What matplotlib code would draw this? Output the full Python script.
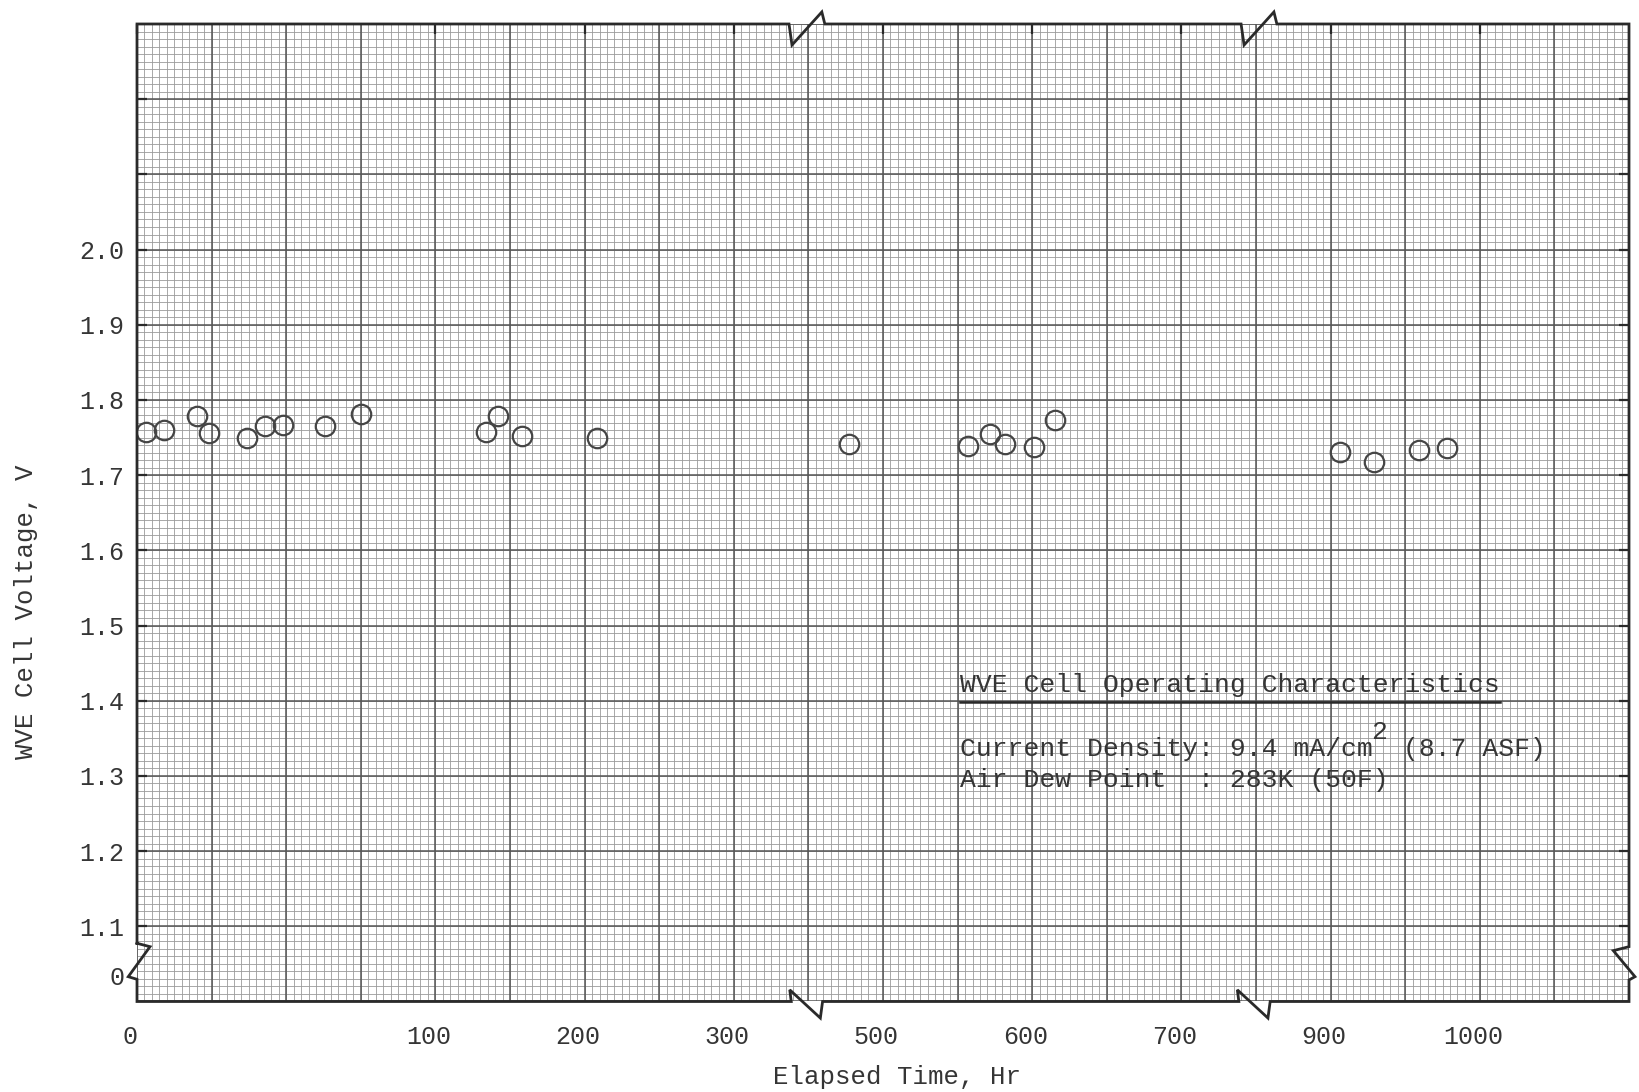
import numpy as np
import matplotlib.pyplot as plt
from matplotlib.transforms import ScaledTranslation

plt.rcParams['font.family'] = ['Liberation Mono', 'DejaVu Sans Mono']

# Readings (elapsed time in hours, cell voltage in volts)
hours = [3, 9, 20, 24, 37, 43, 49, 63, 75,
         134, 142, 158, 208,
         477, 557, 572, 582, 601, 615,
         906, 929, 959, 978]
volts = [1.758, 1.760, 1.778, 1.756, 1.750, 1.766, 1.767, 1.766, 1.781,
         1.758, 1.778, 1.752, 1.750,
         1.742, 1.739, 1.755, 1.742, 1.738, 1.774,
         1.731, 1.718, 1.734, 1.736]

tick_hours = [0, 100, 200, 300, 500, 600, 700, 900, 1000]
tick_volts = [1.1, 1.2, 1.3, 1.4, 1.5, 1.6, 1.7, 1.8, 1.9, 2.0]

# the time axis is broken twice and the first 100 hr are stretched
hr_knots = [0, 100, 350, 450, 750, 850, 1100]
pos_knots = [0, 4, 9, 9, 15, 15, 20]


def to_pos(h):
    return np.interp(h, hr_knots, pos_knots)


ink = '#353535'
fs = 19
adv = 0.6 * fs  # monospace advance, points

fig = plt.figure(figsize=(16.39, 10.92), dpi=100)
ax = fig.add_axes([0.08359, 0.08288, 0.91031, 0.89515])
ax.set_xlim(0, 20)
ax.set_ylim(1.0, 2.3)

# graph paper
ax.vlines(np.arange(0, 20.001, 0.1), 1.0, 2.3, color='#9a9a9a', lw=0.6, zorder=0)
ax.hlines(np.arange(1.0, 2.3001, 0.01), 0, 20, color='#9a9a9a', lw=0.6, zorder=0)
ax.vlines(np.arange(0, 21), 1.0, 2.3, color='#555555', lw=1.1, zorder=1)
ax.hlines(np.arange(1.0, 2.3001, 0.1), 0, 20, color='#555555', lw=1.1, zorder=1)

ax.plot(to_pos(hours), volts, 'o', ms=14, mfc='none', mec='#454545', mew=1.6, zorder=3)

# frame with break marks
for s in ax.spines.values():
    s.set_visible(False)
bx = [0, 0, 8.74, 8.78, 9.18, 9.22, 14.80, 14.84, 15.24, 15.28, 20,
      20, 19.79, 20.08, 20, 20, 15.19, 15.16, 14.75, 14.77, 9.19, 9.16, 8.75, 8.77, 0,
      0, -0.117, 0.174, 0, 0]
by = [1.0774, 2.3, 2.3, 2.272, 2.316, 2.3, 2.3, 2.272, 2.316, 2.3, 2.3,
      1.0729, 1.0676, 1.033, 1.0286, 1.0, 1.0, 0.978, 1.0155, 1.0, 1.0, 0.978, 1.0155, 1.0, 1.0,
      1.0295, 1.033, 1.0729, 1.0774, 1.0774]
ax.plot(bx, by, color='#2a2a2a', lw=2.0, clip_on=False, zorder=5, solid_joinstyle='miter')

# ticks
ax.set_xticks(to_pos(tick_hours))
ax.set_xticklabels([str(h) for h in tick_hours])
ax.set_yticks([1.035] + tick_volts + [2.1, 2.2])
ax.set_yticklabels(['0'] + ['%.1f' % v for v in tick_volts] + ['', ''])
ax.tick_params(axis='x', direction='in', bottom=False, top=True, length=7, width=1.6,
               color='#2a2a2a', labelsize=18, labelcolor=ink, pad=17)
ax.tick_params(axis='y', direction='in', left=True, right=True, length=7, width=1.6,
               color='#2a2a2a', labelsize=18, labelcolor=ink, pad=9)
ax.yaxis.get_major_ticks()[0].tick1line.set_visible(False)
ax.yaxis.get_major_ticks()[0].tick2line.set_visible(False)
for lab in ax.get_xticklabels():
    lab.set_transform(lab.get_transform() + ScaledTranslation(-0.07, 0, fig.dpi_scale_trans))

fig.text(0.547, 0.0137, 'Elapsed Time, Hr', fontsize=18.5, color=ink, ha='center', va='center')
fig.text(0.0159, 0.4400, 'WVE Cell Voltage, V', fontsize=18.5, color=ink, rotation=90,
         ha='center', va='center')

# note block
x0 = 11.03
ax.text(x0, 1.4213, 'WVE Cell Operating Characteristics', fontsize=fs, color=ink, va='center')
ax.plot([x0, 18.27], [1.398, 1.398], color='#2a2a2a', lw=1.8, zorder=4)
ax.text(x0, 1.3360, 'Current Density: 9.4 mA/cm', fontsize=fs, color=ink, va='center')
ax.annotate('2', (x0, 1.3360), xytext=(26 * adv, 12), textcoords='offset points',
            fontsize=fs, color=ink, va='center')
ax.annotate('(8.7 ASF)', (x0, 1.3360), xytext=(28 * adv, 0), textcoords='offset points',
            fontsize=fs, color=ink, va='center')
ax.text(x0, 1.2940, 'Air Dew Point  : 283K (50F)', fontsize=fs, color=ink, va='center')

fig.savefig('out.png', dpi=100, facecolor='white')
